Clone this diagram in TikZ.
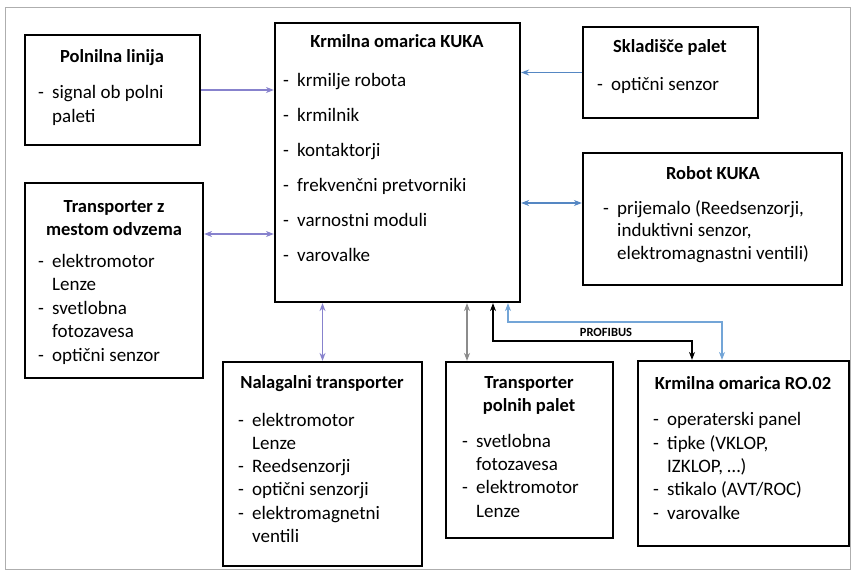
\documentclass[tikz,border=0pt]{standalone}
\usepackage{fontspec}
\setmainfont{Carlito}
\usetikzlibrary{arrows.meta}

\definecolor{lila}{RGB}{135,130,205}
\definecolor{siva}{RGB}{140,140,140}
\definecolor{modra}{RGB}{85,135,195}
\definecolor{svmodra}{RGB}{115,165,215}

\newcommand{\crt}{\makebox[14pt][l]{-}}
\newcommand{\zamik}{\hspace*{14pt}}

\tikzset{
  blok/.style={draw,line width=2.2pt,inner sep=0pt},
  naslov/.style={font=\fontsize{18.5}{23}\selectfont\bfseries,anchor=base,align=center,inner sep=0pt},
  seznam/.style={font=\fontsize{19}{23.3}\selectfont,anchor=base west,align=left,inner sep=0pt},
  povezava/.style={line width=1.6pt},
}

\begin{document}
\begin{tikzpicture}[x=1pt,y=-1pt,>={Stealth[length=8pt,width=6pt]}]
	\useasboundingbox (0,0) rectangle (854,575);
	%frame
	\draw[siva!70,line width=0.8pt] (5,7) rectangle (850,569);

	%boxes
	\node[blok,minimum width=175pt,minimum height=110pt] (poln) at (112.5,90) {};
	\node[blok,minimum width=178pt,minimum height=195pt] (trm) at (114,280.5) {};
	\node[blok,minimum width=245pt,minimum height=279pt] (kuka) at (397.5,162.5) {};
	\node[blok,minimum width=175pt,minimum height=91pt] (sklad) at (670.5,72.5) {};
	\node[blok,minimum width=259pt,minimum height=132pt] (robot) at (712.5,219) {};
	\node[blok,minimum width=199pt,minimum height=204pt] (nal) at (322.5,464) {};
	\node[blok,minimum width=167pt,minimum height=176pt] (tpp) at (529.5,450) {};
	\node[blok,minimum width=211pt,minimum height=185pt] (ro) at (743.5,453.5) {};

	%titles (base = last line)
	\node[naslov] (poln-n) at (112,63) {Polnilna linija};
	\node[naslov] (trm-n) at (114,235) {Transporter z\\mestom odvzema};
	\node[naslov] (kuka-n) at (397,48) {Krmilna omarica KUKA};
	\node[naslov] (sklad-n) at (670,53) {Skladišče palet};
	\node[naslov] (robot-n) at (713,179) {Robot KUKA};
	\node[naslov] (nal-n) at (322,388) {Nalagalni transporter};
	\node[naslov] (tpp-n) at (529,411) {Transporter\\polnih palet};
	\node[naslov] (ro-n) at (743,389) {Krmilna omarica RO.02};

	%lists (base = last line)
	\node[seznam] (poln-s) at (38,122.3) {\crt signal ob polni\\\zamik paleti};
	\node[seznam,font=\fontsize{19}{23.5}\selectfont] (trm-s) at (38,361)
	  {\crt elektromotor\\\zamik Lenze\\\crt svetlobna\\\zamik fotozavesa\\\crt optični senzor};
	\node[seznam,font=\fontsize{19}{35}\selectfont] (kuka-s) at (283,261)
	  {\crt krmilje robota\\\crt krmilnik\\\crt kontaktorji\\\crt frekvenčni pretvorniki\\\crt varnostni moduli\\\crt varovalke};
	\node[seznam] (sklad-s) at (597,91) {\crt optični senzor};
	\node[seznam,font=\fontsize{19}{22.5}\selectfont] (robot-s) at (603,259)
	  {\crt prijemalo (Reedsenzorji,\\\zamik induktivni senzor,\\\zamik elektromagnastni ventili)};
	\node[seznam] (nal-s) at (238,542.5)
	  {\crt elektromotor\\\zamik Lenze\\\crt Reedsenzorji\\\crt optični senzorji\\\crt elektromagnetni\\\zamik ventili};
	\node[seznam] (tpp-s) at (462,517)
	  {\crt svetlobna\\\zamik fotozavesa\\\crt elektromotor\\\zamik Lenze};
	\node[seznam] (ro-s) at (653,519)
	  {\crt operaterski panel\\\crt tipke (VKLOP,\\\zamik IZKLOP, …)\\\crt stikalo (AVT/ROC)\\\crt varovalke};

	%connector heights
	\coordinate (h-trm) at (0,234);
	\coordinate (h-robot) at (0,203);
	\coordinate (v-tpp) at (467,0);
	\coordinate (pb1) at (493,341);
	\coordinate (pb2) at (692,341);
	\coordinate (pm1) at (508,322);
	\coordinate (pm2) at (722,322);

	%connectors
	\draw[povezava,lila,->] (poln.east) -- (poln.east -| kuka.west);
	\draw[povezava,lila,<->] (trm.east |- h-trm) -- (kuka.west |- h-trm);
	\draw[povezava,modra,->] (sklad.west) -- (sklad.west -| kuka.east);
	\draw[povezava,modra,<->] (robot.west |- h-robot) -- (kuka.east |- h-robot);
	\draw[povezava,lila,<->] (nal.north) -- (nal.north |- kuka.south);
	\draw[povezava,siva,<->] (tpp.north -| v-tpp) -- (kuka.south -| v-tpp);
	\draw[povezava,svmodra,<->] (kuka.south -| pm1) -- (pm1) -- (pm2) -- (ro.north -| pm2);
	\draw[povezava,black,line width=2pt,<->] (kuka.south -| pb1) -- (pb1) -- (pb2) -- (ro.north -| pb2);

	%labels
	\node[font=\fontsize{12.5}{14}\selectfont\bfseries,inner sep=1pt] (profibus) at (606,332) {PROFIBUS};
\end{tikzpicture}
\end{document}
